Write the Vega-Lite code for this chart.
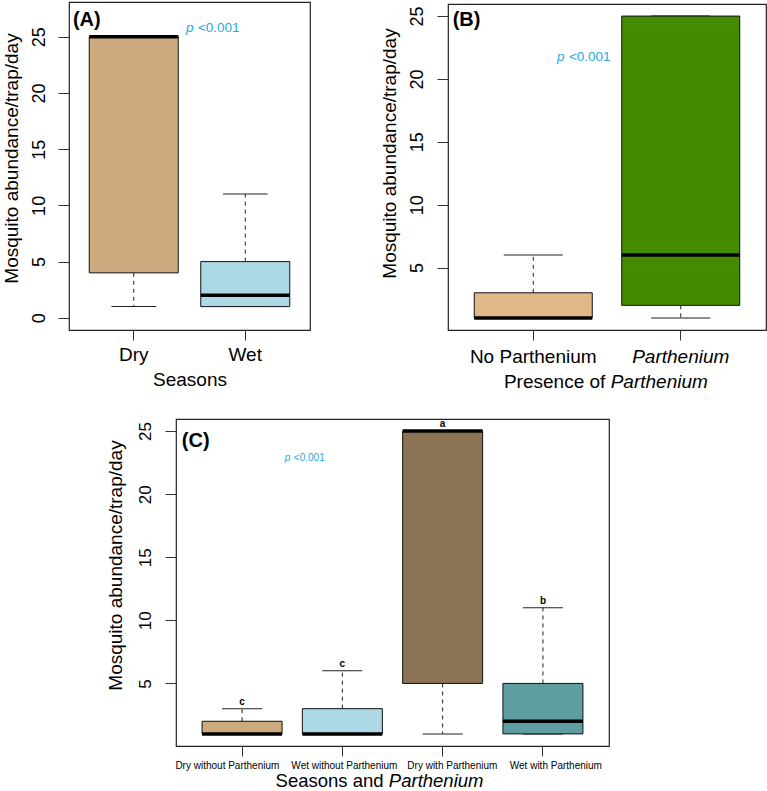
{
  "$schema": "https://vega.github.io/schema/vega-lite/v6.json",
  "padding": {"left": 2, "top": 1, "right": 0, "bottom": 0},
  "config": {
    "font": "Liberation Sans",
    "view": {"stroke": "#222", "strokeWidth": 1.2},
    "axis": {"grid": false, "domain": false, "tickColor": "#333", "labelColor": "black", "titleColor": "black", "titleFontWeight": "normal"}
  },
  "datasets": {
    "box": [
      {"panel": "A", "group": "Dry", "min": 1, "q1": 4, "median": 25, "q3": 25, "max": 25, "letter": ""},
      {"panel": "A", "group": "Wet", "min": 1, "q1": 1, "median": 2, "q3": 5, "max": 11, "letter": ""},
      {"panel": "B", "group": "No Parthenium", "min": 1, "q1": 1, "median": 1, "q3": 3, "max": 6, "letter": ""},
      {"panel": "B", "group": "Parthenium", "min": 1, "q1": 2, "median": 6, "q3": 25, "max": 25, "letter": ""},
      {"panel": "C", "group": "Dry without Parthenium", "min": 1, "q1": 1, "median": 1, "q3": 2, "max": 3, "letter": "c"},
      {"panel": "C", "group": "Wet without Parthenium", "min": 1, "q1": 1, "median": 1, "q3": 3, "max": 6, "letter": "c"},
      {"panel": "C", "group": "Dry with Parthenium", "min": 1, "q1": 5, "median": 25, "q3": 25, "max": 25, "letter": "a"},
      {"panel": "C", "group": "Wet with Parthenium", "min": 1, "q1": 1, "median": 2, "q3": 5, "max": 11, "letter": "b"}
    ],
    "ann": [
      {"id": "A_lab", "group": "Dry", "y": 25.95, "t": "(A)"},
      {"id": "A_p", "group": "Wet", "y": 25.41, "t": "p"},
      {"id": "A_v", "group": "Wet", "y": 25.41, "t": "<0.001"},
      {"id": "B_lab", "group": "No Parthenium", "y": 24.21, "t": "(B)"},
      {"id": "B_p", "group": "No Parthenium", "y": 21.43, "t": "p"},
      {"id": "B_v", "group": "No Parthenium", "y": 21.43, "t": "<0.001"},
      {"id": "B_t1", "group": "No Parthenium", "y": 0.04, "t": "Presence of"},
      {"id": "B_t2", "group": "No Parthenium", "y": 0.04, "t": "Parthenium"},
      {"id": "C_lab", "group": "Dry without Parthenium", "y": 23.74, "t": "(C)"},
      {"id": "C_p", "group": "Wet without Parthenium", "y": 22.63, "t": "p"},
      {"id": "C_v", "group": "Wet without Parthenium", "y": 22.63, "t": "<0.001"},
      {"id": "C_t1", "group": "Wet without Parthenium", "y": 0.04, "t": "Seasons and"},
      {"id": "C_t2", "group": "Wet without Parthenium", "y": 0.04, "t": "Parthenium"}
    ]
  },
  "spacing": 25,
  "vconcat": [
    {
      "bounds": "flush",
      "spacing": 138,
      "hconcat": [
        {
          "width": 241,
          "height": 328,
          "encoding": {
            "x": {"field": "group", "type": "nominal",
              "scale": {"type": "band", "domain": ["Dry", "Wet"], "paddingInner": 0.2018, "paddingOuter": 0.1816},
              "axis": {"title": "Seasons", "labelAngle": 0, "tickSize": 10, "labelPadding": 20, "labelBaseline": "alphabetic", "labelFontSize": 19, "titleFontSize": 19, "titleY": 55, "titleBaseline": "alphabetic"}}
          },
          "layer": [
            {"data": {"name": "box"}, "transform": [{"filter": "datum.panel==='A'"}],
             "mark": {"type": "rule", "strokeDash": [4, 4], "color": "#222", "strokeWidth": 1},
             "encoding": {
               "y": {"field": "q1", "type": "quantitative", "scale": {"domain": [-1.08, 28.08], "nice": false, "zero": false},
                 "axis": {"values": [0, 5, 10, 15, 20, 25], "title": "Mosquito abundance/trap/day", "labelAngle": 270, "labelAlign": "center", "labelBaseline": "alphabetic", "tickSize": 11, "labelPadding": 13.7, "labelFontSize": 18, "titleFontSize": 19, "titleX": -51.4, "titleY": 156, "titleBaseline": "alphabetic", "titleAngle": 270}},
               "y2": {"field": "min"}}},
            {"data": {"name": "box"}, "transform": [{"filter": "datum.panel==='A'"}],
             "mark": {"type": "rule", "strokeDash": [4, 4], "color": "#222", "strokeWidth": 1},
             "encoding": {"y": {"field": "q3", "type": "quantitative", "scale": {"domain": [-1.08, 28.08], "nice": false, "zero": false},
                 "axis": {"values": [0, 5, 10, 15, 20, 25], "title": "Mosquito abundance/trap/day", "labelAngle": 270, "labelAlign": "center", "labelBaseline": "alphabetic", "tickSize": 11, "labelPadding": 13.7, "labelFontSize": 18, "titleFontSize": 19, "titleX": -51.4, "titleY": 156, "titleBaseline": "alphabetic", "titleAngle": 270}},
               "y2": {"field": "max"}}},
            {"data": {"name": "box"}, "transform": [{"filter": "datum.panel==='A'"}],
             "mark": {"type": "tick", "size": 44.5, "thickness": 1, "color": "#222", "opacity": 1},
             "encoding": {"y": {"field": "min", "type": "quantitative", "scale": {"domain": [-1.08, 28.08], "nice": false, "zero": false},
                 "axis": {"values": [0, 5, 10, 15, 20, 25], "title": "Mosquito abundance/trap/day", "labelAngle": 270, "labelAlign": "center", "labelBaseline": "alphabetic", "tickSize": 11, "labelPadding": 13.7, "labelFontSize": 18, "titleFontSize": 19, "titleX": -51.4, "titleY": 156, "titleBaseline": "alphabetic", "titleAngle": 270}}}},
            {"data": {"name": "box"}, "transform": [{"filter": "datum.panel==='A'"}],
             "mark": {"type": "tick", "size": 44.5, "thickness": 1, "color": "#222", "opacity": 1},
             "encoding": {"y": {"field": "max", "type": "quantitative", "scale": {"domain": [-1.08, 28.08], "nice": false, "zero": false},
                 "axis": {"values": [0, 5, 10, 15, 20, 25], "title": "Mosquito abundance/trap/day", "labelAngle": 270, "labelAlign": "center", "labelBaseline": "alphabetic", "tickSize": 11, "labelPadding": 13.7, "labelFontSize": 18, "titleFontSize": 19, "titleX": -51.4, "titleY": 156, "titleBaseline": "alphabetic", "titleAngle": 270}}}},
            {"data": {"name": "box"}, "transform": [{"filter": "datum.panel==='A'"}],
             "mark": {"type": "bar", "stroke": "#111", "strokeWidth": 1, "opacity": 1},
             "encoding": {"y": {"field": "q1", "type": "quantitative", "scale": {"domain": [-1.08, 28.08], "nice": false, "zero": false},
                 "axis": {"values": [0, 5, 10, 15, 20, 25], "title": "Mosquito abundance/trap/day", "labelAngle": 270, "labelAlign": "center", "labelBaseline": "alphabetic", "tickSize": 11, "labelPadding": 13.7, "labelFontSize": 18, "titleFontSize": 19, "titleX": -51.4, "titleY": 156, "titleBaseline": "alphabetic", "titleAngle": 270}},
               "y2": {"field": "q3"},
               "color": {"field": "group", "type": "nominal", "legend": null,
                 "scale": {"domain": ["Dry", "Wet", "No Parthenium", "Parthenium", "Dry without Parthenium", "Wet without Parthenium", "Dry with Parthenium", "Wet with Parthenium"],
                   "range": ["#CDAA7D", "#ADD8E6", "#DEB887", "#458B00", "#CDAA7D", "#ADD8E6", "#8B7355", "#5F9EA0"]}}}},
            {"data": {"name": "box"}, "transform": [{"filter": "datum.panel==='A'"}],
             "mark": {"type": "tick", "size": 89, "thickness": 3.5, "color": "black", "opacity": 1},
             "encoding": {"y": {"field": "median", "type": "quantitative", "scale": {"domain": [-1.08, 28.08], "nice": false, "zero": false},
                 "axis": {"values": [0, 5, 10, 15, 20, 25], "title": "Mosquito abundance/trap/day", "labelAngle": 270, "labelAlign": "center", "labelBaseline": "alphabetic", "tickSize": 11, "labelPadding": 13.7, "labelFontSize": 18, "titleFontSize": 19, "titleX": -51.4, "titleY": 156, "titleBaseline": "alphabetic", "titleAngle": 270}}}},
            {"data": {"name": "ann"}, "transform": [{"filter": "datum.id==='A_lab'"}],
             "mark": {"type": "text", "align": "left", "baseline": "alphabetic", "dx": -60.8, "fontSize": 20, "fontWeight": "bold", "color": "black"},
             "encoding": {"y": {"field": "y", "type": "quantitative", "scale": {"domain": [-1.08, 28.08], "nice": false, "zero": false},
                 "axis": {"values": [0, 5, 10, 15, 20, 25], "title": "Mosquito abundance/trap/day", "labelAngle": 270, "labelAlign": "center", "labelBaseline": "alphabetic", "tickSize": 11, "labelPadding": 13.7, "labelFontSize": 18, "titleFontSize": 19, "titleX": -51.4, "titleY": 156, "titleBaseline": "alphabetic", "titleAngle": 270}}, "text": {"field": "t"}}},
            {"data": {"name": "ann"}, "transform": [{"filter": "datum.id==='A_p'"}],
             "mark": {"type": "text", "align": "left", "baseline": "alphabetic", "dx": -59.3, "fontSize": 13.5, "fontStyle": "italic", "color": "#29A8E0"},
             "encoding": {"y": {"field": "y", "type": "quantitative", "scale": {"domain": [-1.08, 28.08], "nice": false, "zero": false},
                 "axis": {"values": [0, 5, 10, 15, 20, 25], "title": "Mosquito abundance/trap/day", "labelAngle": 270, "labelAlign": "center", "labelBaseline": "alphabetic", "tickSize": 11, "labelPadding": 13.7, "labelFontSize": 18, "titleFontSize": 19, "titleX": -51.4, "titleY": 156, "titleBaseline": "alphabetic", "titleAngle": 270}}, "text": {"field": "t"}}},
            {"data": {"name": "ann"}, "transform": [{"filter": "datum.id==='A_v'"}],
             "mark": {"type": "text", "align": "left", "baseline": "alphabetic", "dx": -47.3, "fontSize": 13.5, "color": "#29A8E0"},
             "encoding": {"y": {"field": "y", "type": "quantitative", "scale": {"domain": [-1.08, 28.08], "nice": false, "zero": false},
                 "axis": {"values": [0, 5, 10, 15, 20, 25], "title": "Mosquito abundance/trap/day", "labelAngle": 270, "labelAlign": "center", "labelBaseline": "alphabetic", "tickSize": 11, "labelPadding": 13.7, "labelFontSize": 18, "titleFontSize": 19, "titleX": -51.4, "titleY": 156, "titleBaseline": "alphabetic", "titleAngle": 270}}, "text": {"field": "t"}}}
          ]
        },
        {
          "bounds": "flush",
          "spacing": 1,
          "vconcat": [
            {"width": 1, "height": 1, "view": {"stroke": null}, "data": {"values": []}, "mark": "point", "encoding": {}},
            {
              "width": 318,
              "height": 326,
              "encoding": {
                "x": {"field": "group", "type": "nominal",
                  "scale": {"type": "band", "domain": ["No Parthenium", "Parthenium"], "paddingInner": 0.2, "paddingOuter": 0.178},
                  "axis": {"title": null, "labelAngle": 0, "tickSize": 10, "labelPadding": 22, "labelBaseline": "alphabetic", "labelFontSize": 19,
                    "labelFontStyle": {"condition": {"test": "datum.value === 'Parthenium'", "value": "italic"}, "value": "normal"}}}
              },
              "layer": [
                {"data": {"name": "box"}, "transform": [{"filter": "datum.panel==='B'"}],
                 "mark": {"type": "rule", "strokeDash": [4, 4], "color": "#222", "strokeWidth": 1},
                 "encoding": {
                   "y": {"field": "q1", "type": "quantitative", "scale": {"domain": [0.04, 25.96], "nice": false, "zero": false},
                     "axis": {"values": [5, 10, 15, 20, 25], "title": "Mosquito abundance/trap/day", "labelAngle": 270, "labelAlign": "center", "labelBaseline": "alphabetic", "tickSize": 11, "labelPadding": 15, "labelFontSize": 18, "titleFontSize": 19, "titleX": -53, "titleY": 149, "titleBaseline": "alphabetic", "titleAngle": 270}},
                   "y2": {"field": "min"}}},
                {"data": {"name": "box"}, "transform": [{"filter": "datum.panel==='B'"}],
                 "mark": {"type": "rule", "strokeDash": [4, 4], "color": "#222", "strokeWidth": 1},
                 "encoding": {"y": {"field": "q3", "type": "quantitative", "scale": {"domain": [0.04, 25.96], "nice": false, "zero": false},
                     "axis": {"values": [5, 10, 15, 20, 25], "title": "Mosquito abundance/trap/day", "labelAngle": 270, "labelAlign": "center", "labelBaseline": "alphabetic", "tickSize": 11, "labelPadding": 15, "labelFontSize": 18, "titleFontSize": 19, "titleX": -53, "titleY": 149, "titleBaseline": "alphabetic", "titleAngle": 270}},
                   "y2": {"field": "max"}}},
                {"data": {"name": "box"}, "transform": [{"filter": "datum.panel==='B'"}],
                 "mark": {"type": "tick", "size": 59, "thickness": 1, "color": "#222", "opacity": 1},
                 "encoding": {"y": {"field": "min", "type": "quantitative", "scale": {"domain": [0.04, 25.96], "nice": false, "zero": false},
                     "axis": {"values": [5, 10, 15, 20, 25], "title": "Mosquito abundance/trap/day", "labelAngle": 270, "labelAlign": "center", "labelBaseline": "alphabetic", "tickSize": 11, "labelPadding": 15, "labelFontSize": 18, "titleFontSize": 19, "titleX": -53, "titleY": 149, "titleBaseline": "alphabetic", "titleAngle": 270}}}},
                {"data": {"name": "box"}, "transform": [{"filter": "datum.panel==='B'"}],
                 "mark": {"type": "tick", "size": 59, "thickness": 1, "color": "#222", "opacity": 1},
                 "encoding": {"y": {"field": "max", "type": "quantitative", "scale": {"domain": [0.04, 25.96], "nice": false, "zero": false},
                     "axis": {"values": [5, 10, 15, 20, 25], "title": "Mosquito abundance/trap/day", "labelAngle": 270, "labelAlign": "center", "labelBaseline": "alphabetic", "tickSize": 11, "labelPadding": 15, "labelFontSize": 18, "titleFontSize": 19, "titleX": -53, "titleY": 149, "titleBaseline": "alphabetic", "titleAngle": 270}}}},
                {"data": {"name": "box"}, "transform": [{"filter": "datum.panel==='B'"}],
                 "mark": {"type": "bar", "stroke": "#111", "strokeWidth": 1, "opacity": 1},
                 "encoding": {"y": {"field": "q1", "type": "quantitative", "scale": {"domain": [0.04, 25.96], "nice": false, "zero": false},
                     "axis": {"values": [5, 10, 15, 20, 25], "title": "Mosquito abundance/trap/day", "labelAngle": 270, "labelAlign": "center", "labelBaseline": "alphabetic", "tickSize": 11, "labelPadding": 15, "labelFontSize": 18, "titleFontSize": 19, "titleX": -53, "titleY": 149, "titleBaseline": "alphabetic", "titleAngle": 270}},
                   "y2": {"field": "q3"},
                   "color": {"field": "group", "type": "nominal", "legend": null,
                     "scale": {"domain": ["Dry", "Wet", "No Parthenium", "Parthenium", "Dry without Parthenium", "Wet without Parthenium", "Dry with Parthenium", "Wet with Parthenium"],
                       "range": ["#CDAA7D", "#ADD8E6", "#DEB887", "#458B00", "#CDAA7D", "#ADD8E6", "#8B7355", "#5F9EA0"]}}}},
                {"data": {"name": "box"}, "transform": [{"filter": "datum.panel==='B'"}],
                 "mark": {"type": "tick", "size": 118, "thickness": 3.5, "color": "black", "opacity": 1},
                 "encoding": {"y": {"field": "median", "type": "quantitative", "scale": {"domain": [0.04, 25.96], "nice": false, "zero": false},
                     "axis": {"values": [5, 10, 15, 20, 25], "title": "Mosquito abundance/trap/day", "labelAngle": 270, "labelAlign": "center", "labelBaseline": "alphabetic", "tickSize": 11, "labelPadding": 15, "labelFontSize": 18, "titleFontSize": 19, "titleX": -53, "titleY": 149, "titleBaseline": "alphabetic", "titleAngle": 270}}}},
                {"data": {"name": "ann"}, "transform": [{"filter": "datum.id==='B_lab'"}],
                 "mark": {"type": "text", "align": "left", "baseline": "alphabetic", "dx": -80.6, "fontSize": 20, "fontWeight": "bold", "color": "black"},
                 "encoding": {"y": {"field": "y", "type": "quantitative", "scale": {"domain": [0.04, 25.96], "nice": false, "zero": false},
                     "axis": {"values": [5, 10, 15, 20, 25], "title": "Mosquito abundance/trap/day", "labelAngle": 270, "labelAlign": "center", "labelBaseline": "alphabetic", "tickSize": 11, "labelPadding": 15, "labelFontSize": 18, "titleFontSize": 19, "titleX": -53, "titleY": 149, "titleBaseline": "alphabetic", "titleAngle": 270}}, "text": {"field": "t"}}},
                {"data": {"name": "ann"}, "transform": [{"filter": "datum.id==='B_p'"}],
                 "mark": {"type": "text", "align": "left", "baseline": "alphabetic", "dx": 23.7, "fontSize": 13.5, "fontStyle": "italic", "color": "#29A8E0"},
                 "encoding": {"y": {"field": "y", "type": "quantitative", "scale": {"domain": [0.04, 25.96], "nice": false, "zero": false},
                     "axis": {"values": [5, 10, 15, 20, 25], "title": "Mosquito abundance/trap/day", "labelAngle": 270, "labelAlign": "center", "labelBaseline": "alphabetic", "tickSize": 11, "labelPadding": 15, "labelFontSize": 18, "titleFontSize": 19, "titleX": -53, "titleY": 149, "titleBaseline": "alphabetic", "titleAngle": 270}}, "text": {"field": "t"}}},
                {"data": {"name": "ann"}, "transform": [{"filter": "datum.id==='B_v'"}],
                 "mark": {"type": "text", "align": "left", "baseline": "alphabetic", "dx": 35.7, "fontSize": 13.5, "color": "#29A8E0"},
                 "encoding": {"y": {"field": "y", "type": "quantitative", "scale": {"domain": [0.04, 25.96], "nice": false, "zero": false},
                     "axis": {"values": [5, 10, 15, 20, 25], "title": "Mosquito abundance/trap/day", "labelAngle": 270, "labelAlign": "center", "labelBaseline": "alphabetic", "tickSize": 11, "labelPadding": 15, "labelFontSize": 18, "titleFontSize": 19, "titleX": -53, "titleY": 149, "titleBaseline": "alphabetic", "titleAngle": 270}}, "text": {"field": "t"}}},
                {"data": {"name": "ann"}, "transform": [{"filter": "datum.id==='B_t1'"}],
                 "mark": {"type": "text", "align": "right", "baseline": "alphabetic", "dx": 72.1, "dy": 58, "fontSize": 19, "color": "black"},
                 "encoding": {"y": {"field": "y", "type": "quantitative", "scale": {"domain": [0.04, 25.96], "nice": false, "zero": false},
                     "axis": {"values": [5, 10, 15, 20, 25], "title": "Mosquito abundance/trap/day", "labelAngle": 270, "labelAlign": "center", "labelBaseline": "alphabetic", "tickSize": 11, "labelPadding": 15, "labelFontSize": 18, "titleFontSize": 19, "titleX": -53, "titleY": 149, "titleBaseline": "alphabetic", "titleAngle": 270}}, "text": {"field": "t"}}},
                {"data": {"name": "ann"}, "transform": [{"filter": "datum.id==='B_t2'"}],
                 "mark": {"type": "text", "align": "left", "baseline": "alphabetic", "dx": 77.4, "dy": 58, "fontSize": 19, "fontStyle": "italic", "color": "black"},
                 "encoding": {"y": {"field": "y", "type": "quantitative", "scale": {"domain": [0.04, 25.96], "nice": false, "zero": false},
                     "axis": {"values": [5, 10, 15, 20, 25], "title": "Mosquito abundance/trap/day", "labelAngle": 270, "labelAlign": "center", "labelBaseline": "alphabetic", "tickSize": 11, "labelPadding": 15, "labelFontSize": 18, "titleFontSize": 19, "titleX": -53, "titleY": 149, "titleBaseline": "alphabetic", "titleAngle": 270}}, "text": {"field": "t"}}}
              ]
            }
          ]
        }
      ]
    },
    {
      "bounds": "flush",
      "spacing": 106,
      "hconcat": [
        {"width": 1, "height": 1, "view": {"stroke": null}, "data": {"values": []}, "mark": "point", "encoding": {}},
        {
          "width": 433,
          "height": 327,
          "encoding": {
            "x": {"field": "group", "type": "nominal",
              "scale": {"type": "band", "domain": ["Dry without Parthenium", "Wet without Parthenium", "Dry with Parthenium", "Wet with Parthenium"], "paddingInner": 0.2024, "paddingOuter": 0.26},
              "axis": {"title": null, "labelAngle": 0, "tickSize": 10, "labelPadding": 12, "labelBaseline": "alphabetic", "labelFontSize": 10,
                "labelOffset": {"condition": [
                  {"test": "datum.value === 'Dry without Parthenium'", "value": -14.7},
                  {"test": "datum.value === 'Dry with Parthenium'", "value": 9.7},
                  {"test": "datum.value === 'Wet with Parthenium'", "value": 12.9}], "value": 2}}}
          },
          "layer": [
            {"data": {"name": "box"}, "transform": [{"filter": "datum.panel==='C'"}],
             "mark": {"type": "rule", "strokeDash": [4, 4], "color": "#222", "strokeWidth": 1},
             "encoding": {
               "y": {"field": "q1", "type": "quantitative", "scale": {"domain": [0.04, 25.96], "nice": false, "zero": false},
                 "axis": {"values": [5, 10, 15, 20, 25], "title": "Mosquito abundance/trap/day", "labelAngle": 270, "labelAlign": "center", "labelBaseline": "alphabetic", "tickSize": 11, "labelPadding": 15, "labelFontSize": 17, "titleFontSize": 19, "titleX": -55, "titleY": 146, "titleBaseline": "alphabetic", "titleAngle": 270}},
               "y2": {"field": "min"}}},
            {"data": {"name": "box"}, "transform": [{"filter": "datum.panel==='C'"}],
             "mark": {"type": "rule", "strokeDash": [4, 4], "color": "#222", "strokeWidth": 1},
             "encoding": {"y": {"field": "q3", "type": "quantitative", "scale": {"domain": [0.04, 25.96], "nice": false, "zero": false},
                 "axis": {"values": [5, 10, 15, 20, 25], "title": "Mosquito abundance/trap/day", "labelAngle": 270, "labelAlign": "center", "labelBaseline": "alphabetic", "tickSize": 11, "labelPadding": 15, "labelFontSize": 17, "titleFontSize": 19, "titleX": -55, "titleY": 146, "titleBaseline": "alphabetic", "titleAngle": 270}},
               "y2": {"field": "max"}}},
            {"data": {"name": "box"}, "transform": [{"filter": "datum.panel==='C'"}],
             "mark": {"type": "tick", "size": 40, "thickness": 1, "color": "#222", "opacity": 1},
             "encoding": {"y": {"field": "min", "type": "quantitative", "scale": {"domain": [0.04, 25.96], "nice": false, "zero": false},
                 "axis": {"values": [5, 10, 15, 20, 25], "title": "Mosquito abundance/trap/day", "labelAngle": 270, "labelAlign": "center", "labelBaseline": "alphabetic", "tickSize": 11, "labelPadding": 15, "labelFontSize": 17, "titleFontSize": 19, "titleX": -55, "titleY": 146, "titleBaseline": "alphabetic", "titleAngle": 270}}}},
            {"data": {"name": "box"}, "transform": [{"filter": "datum.panel==='C'"}],
             "mark": {"type": "tick", "size": 40, "thickness": 1, "color": "#222", "opacity": 1},
             "encoding": {"y": {"field": "max", "type": "quantitative", "scale": {"domain": [0.04, 25.96], "nice": false, "zero": false},
                 "axis": {"values": [5, 10, 15, 20, 25], "title": "Mosquito abundance/trap/day", "labelAngle": 270, "labelAlign": "center", "labelBaseline": "alphabetic", "tickSize": 11, "labelPadding": 15, "labelFontSize": 17, "titleFontSize": 19, "titleX": -55, "titleY": 146, "titleBaseline": "alphabetic", "titleAngle": 270}}}},
            {"data": {"name": "box"}, "transform": [{"filter": "datum.panel==='C'"}],
             "mark": {"type": "bar", "stroke": "#111", "strokeWidth": 1, "opacity": 1},
             "encoding": {"y": {"field": "q1", "type": "quantitative", "scale": {"domain": [0.04, 25.96], "nice": false, "zero": false},
                 "axis": {"values": [5, 10, 15, 20, 25], "title": "Mosquito abundance/trap/day", "labelAngle": 270, "labelAlign": "center", "labelBaseline": "alphabetic", "tickSize": 11, "labelPadding": 15, "labelFontSize": 17, "titleFontSize": 19, "titleX": -55, "titleY": 146, "titleBaseline": "alphabetic", "titleAngle": 270}},
               "y2": {"field": "q3"},
               "color": {"field": "group", "type": "nominal", "legend": null,
                 "scale": {"domain": ["Dry", "Wet", "No Parthenium", "Parthenium", "Dry without Parthenium", "Wet without Parthenium", "Dry with Parthenium", "Wet with Parthenium"],
                   "range": ["#CDAA7D", "#ADD8E6", "#DEB887", "#458B00", "#CDAA7D", "#ADD8E6", "#8B7355", "#5F9EA0"]}}}},
            {"data": {"name": "box"}, "transform": [{"filter": "datum.panel==='C'"}],
             "mark": {"type": "tick", "size": 80, "thickness": 3.5, "color": "black", "opacity": 1},
             "encoding": {"y": {"field": "median", "type": "quantitative", "scale": {"domain": [0.04, 25.96], "nice": false, "zero": false},
                 "axis": {"values": [5, 10, 15, 20, 25], "title": "Mosquito abundance/trap/day", "labelAngle": 270, "labelAlign": "center", "labelBaseline": "alphabetic", "tickSize": 11, "labelPadding": 15, "labelFontSize": 17, "titleFontSize": 19, "titleX": -55, "titleY": 146, "titleBaseline": "alphabetic", "titleAngle": 270}}}},
            {"data": {"name": "box"}, "transform": [{"filter": "datum.panel==='C'"}],
             "mark": {"type": "text", "align": "center", "baseline": "alphabetic", "dy": -4, "fontSize": 10, "fontWeight": "bold", "color": "black"},
             "encoding": {"y": {"field": "max", "type": "quantitative", "scale": {"domain": [0.04, 25.96], "nice": false, "zero": false},
                 "axis": {"values": [5, 10, 15, 20, 25], "title": "Mosquito abundance/trap/day", "labelAngle": 270, "labelAlign": "center", "labelBaseline": "alphabetic", "tickSize": 11, "labelPadding": 15, "labelFontSize": 17, "titleFontSize": 19, "titleX": -55, "titleY": 146, "titleBaseline": "alphabetic", "titleAngle": 270}}, "text": {"field": "letter"}}},
            {"data": {"name": "ann"}, "transform": [{"filter": "datum.id==='C_lab'"}],
             "mark": {"type": "text", "align": "left", "baseline": "alphabetic", "dx": -60.2, "fontSize": 20, "fontWeight": "bold", "color": "black"},
             "encoding": {"y": {"field": "y", "type": "quantitative", "scale": {"domain": [0.04, 25.96], "nice": false, "zero": false},
                 "axis": {"values": [5, 10, 15, 20, 25], "title": "Mosquito abundance/trap/day", "labelAngle": 270, "labelAlign": "center", "labelBaseline": "alphabetic", "tickSize": 11, "labelPadding": 15, "labelFontSize": 17, "titleFontSize": 19, "titleX": -55, "titleY": 146, "titleBaseline": "alphabetic", "titleAngle": 270}}, "text": {"field": "t"}}},
            {"data": {"name": "ann"}, "transform": [{"filter": "datum.id==='C_p'"}],
             "mark": {"type": "text", "align": "left", "baseline": "alphabetic", "dx": -57.5, "fontSize": 10, "fontStyle": "italic", "color": "#29A8E0"},
             "encoding": {"y": {"field": "y", "type": "quantitative", "scale": {"domain": [0.04, 25.96], "nice": false, "zero": false},
                 "axis": {"values": [5, 10, 15, 20, 25], "title": "Mosquito abundance/trap/day", "labelAngle": 270, "labelAlign": "center", "labelBaseline": "alphabetic", "tickSize": 11, "labelPadding": 15, "labelFontSize": 17, "titleFontSize": 19, "titleX": -55, "titleY": 146, "titleBaseline": "alphabetic", "titleAngle": 270}}, "text": {"field": "t"}}},
            {"data": {"name": "ann"}, "transform": [{"filter": "datum.id==='C_v'"}],
             "mark": {"type": "text", "align": "left", "baseline": "alphabetic", "dx": -48.5, "fontSize": 10, "color": "#29A8E0"},
             "encoding": {"y": {"field": "y", "type": "quantitative", "scale": {"domain": [0.04, 25.96], "nice": false, "zero": false},
                 "axis": {"values": [5, 10, 15, 20, 25], "title": "Mosquito abundance/trap/day", "labelAngle": 270, "labelAlign": "center", "labelBaseline": "alphabetic", "tickSize": 11, "labelPadding": 15, "labelFontSize": 17, "titleFontSize": 19, "titleX": -55, "titleY": 146, "titleBaseline": "alphabetic", "titleAngle": 270}}, "text": {"field": "t"}}},
            {"data": {"name": "ann"}, "transform": [{"filter": "datum.id==='C_t1'"}],
             "mark": {"type": "text", "align": "right", "baseline": "alphabetic", "dx": 41.2, "dy": 41, "fontSize": 18.5, "color": "black"},
             "encoding": {"y": {"field": "y", "type": "quantitative", "scale": {"domain": [0.04, 25.96], "nice": false, "zero": false},
                 "axis": {"values": [5, 10, 15, 20, 25], "title": "Mosquito abundance/trap/day", "labelAngle": 270, "labelAlign": "center", "labelBaseline": "alphabetic", "tickSize": 11, "labelPadding": 15, "labelFontSize": 17, "titleFontSize": 19, "titleX": -55, "titleY": 146, "titleBaseline": "alphabetic", "titleAngle": 270}}, "text": {"field": "t"}}},
            {"data": {"name": "ann"}, "transform": [{"filter": "datum.id==='C_t2'"}],
             "mark": {"type": "text", "align": "left", "baseline": "alphabetic", "dx": 46.5, "dy": 41, "fontSize": 18.5, "fontStyle": "italic", "color": "black"},
             "encoding": {"y": {"field": "y", "type": "quantitative", "scale": {"domain": [0.04, 25.96], "nice": false, "zero": false},
                 "axis": {"values": [5, 10, 15, 20, 25], "title": "Mosquito abundance/trap/day", "labelAngle": 270, "labelAlign": "center", "labelBaseline": "alphabetic", "tickSize": 11, "labelPadding": 15, "labelFontSize": 17, "titleFontSize": 19, "titleX": -55, "titleY": 146, "titleBaseline": "alphabetic", "titleAngle": 270}}, "text": {"field": "t"}}}
          ]
        }
      ]
    }
  ]
}
